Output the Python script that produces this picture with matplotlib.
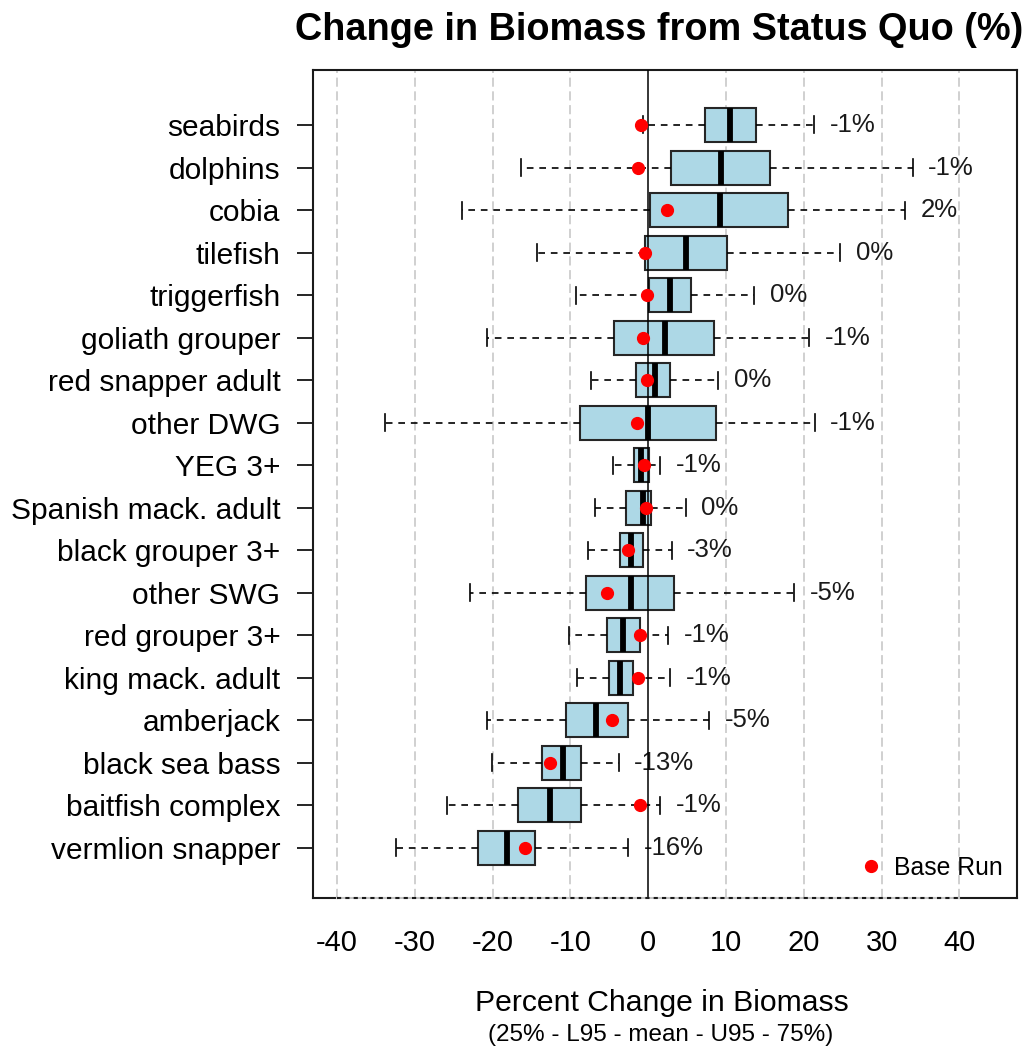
import matplotlib
matplotlib.use("Agg")
import matplotlib.pyplot as plt
from matplotlib.lines import Line2D
import matplotlib.transforms as mtransforms

plt.rcParams['font.family'] = ['Liberation Sans', 'DejaVu Sans']

# species, top to bottom
species = ["seabirds", "dolphins", "cobia", "tilefish", "triggerfish",
           "goliath grouper", "red snapper adult", "other DWG", "YEG 3+",
           "Spanish mack. adult", "black grouper 3+", "other SWG",
           "red grouper 3+", "king mack. adult", "amberjack",
           "black sea bass", "baitfish complex", "vermlion snapper"]

# percent change in biomass: 25%, L95, mean, U95, 75%
q25 = [7.25, 2.9, 0.24, -0.36, 0.12, -4.43, -1.6, -8.75, -1.8,
       -2.8, -3.65, -8.0, -5.3, -5.0, -10.6, -13.7, -16.8, -21.9]
l95 = [-0.66, -16.4, -24.0, -14.3, -9.35, -20.7, -7.3, -33.8, -4.5,
       -6.8, -7.7, -22.9, -10.2, -9.2, -20.7, -20.1, -25.9, -32.4]
mean = [10.5, 9.4, 9.2, 4.8, 2.76, 2.1, 0.84, -0.06, -0.9,
        -0.72, -2.2, -2.2, -3.2, -3.6, -6.7, -11.0, -12.6, -18.2]
u95 = [21.3, 34.0, 33.0, 24.7, 13.6, 20.7, 9.0, 21.4, 1.5,
       4.8, 3.0, 18.75, 2.6, 2.8, 7.8, -3.8, 1.5, -2.6]
q75 = [13.9, 15.7, 18.0, 10.1, 5.45, 8.5, 2.8, 8.7, 0.06,
       0.3, -0.66, 3.35, -1.1, -2.0, -2.6, -8.6, -8.6, -14.5]

# base run result
base = [-0.9, -1.3, 2.4, -0.36, -0.18, -0.66, -0.12, -1.4, -0.54,
        -0.24, -2.6, -5.3, -1.1, -1.3, -4.7, -12.6, -1.1, -15.8]

xticks = [-40, -30, -20, -10, 0, 10, 20, 30, 40]

n = len(species)
ypos = list(range(n, 0, -1))

fig = plt.figure(figsize=(10.29, 10.51), dpi=100)
ax = fig.add_axes([0.3042, 0.1456, 0.6841, 0.7878])

# dashed grid behind the boxes
for v in xticks:
    if v != 0:
        ax.axvline(v, color='#c4c4c4', lw=1.1, linestyle=(0, (6, 3)), zorder=0)

stats = []
for i in range(n):
    stats.append(dict(med=mean[i], q1=q25[i], q3=q75[i],
                      whislo=l95[i], whishi=u95[i], fliers=[]))

ax.bxp(stats, positions=ypos, widths=0.8, capwidths=0.4,
       orientation='horizontal', patch_artist=True, manage_ticks=False,
       showfliers=False,
       boxprops=dict(facecolor='#add8e6', edgecolor='#262626', linewidth=1.5),
       medianprops=dict(color='black', linewidth=4.2, solid_capstyle='butt'),
       whiskerprops=dict(color='black', linewidth=1.2, linestyle=(0, (4, 3.5))),
       capprops=dict(color='black', linewidth=1.2))

ax.axvline(0, color='black', lw=1.1, zorder=4)

ax.plot(base, ypos, 'o', color='red', markersize=8.5, zorder=5)

for i in range(n):
    ax.text(u95[i] + 2.0, ypos[i], f"{round(base[i])}%", fontsize=18.5,
            ha='left', va='center', color='#1a1a1a')

ax.set_xlim(-43.1, 47.4)
ax.set_ylim(-0.176, n + 1.293)

ax.set_yticks(ypos)
ax.set_yticklabels(species, fontsize=21.5)
ax.set_xticks(xticks)
ax.set_xticklabels([str(v) for v in xticks], fontsize=21)
ax.tick_params(axis='y', direction='out', length=11.5, width=1.2, pad=12)
ax.tick_params(axis='x', length=0, pad=22)

for s in ax.spines.values():
    s.set_linewidth(1.5)
    s.set_color('#1a1a1a')

# bottom edge: solid at the ends, dotted between the outer grid lines
ax.spines['bottom'].set_visible(False)
trans = mtransforms.blended_transform_factory(ax.transData, ax.transAxes)
ax.plot([-43.1, -40], [0, 0], color='#1a1a1a', lw=1.5, transform=trans,
        clip_on=False, zorder=6)
ax.plot([40, 47.4], [0, 0], color='#1a1a1a', lw=1.5, transform=trans,
        clip_on=False, zorder=6)
ax.plot([-40, 40], [0, 0], color='#c4c4c4', lw=1.5, transform=trans,
        clip_on=False, zorder=6)
ax.plot([-40, 40], [0, 0], color='#1a1a1a', lw=1.5, linestyle=(0, (2, 2)),
        transform=trans, clip_on=False, zorder=7)

handle = Line2D([], [], marker='o', color='red', linestyle='none', markersize=8.5)
ax.legend([handle], ['Base Run'], loc='lower right', frameon=False,
          fontsize=17.8, handlelength=1.0, handletextpad=0.45,
          bbox_to_anchor=(1.012, -0.005))

fig.text(0.641, 1 - 30 / 1051, 'Change in Biomass from Status Quo (%)',
         fontsize=27.3, fontweight='bold', ha='center', va='center')
fig.text(0.643, 1 - 1003 / 1051, 'Percent Change in Biomass',
         fontsize=21.7, ha='center', va='center')
fig.text(0.642, 1 - 1035 / 1051, '(25% - L95 - mean - U95 - 75%)',
         fontsize=17.5, ha='center', va='center')

fig.savefig('out.png', dpi=100)
